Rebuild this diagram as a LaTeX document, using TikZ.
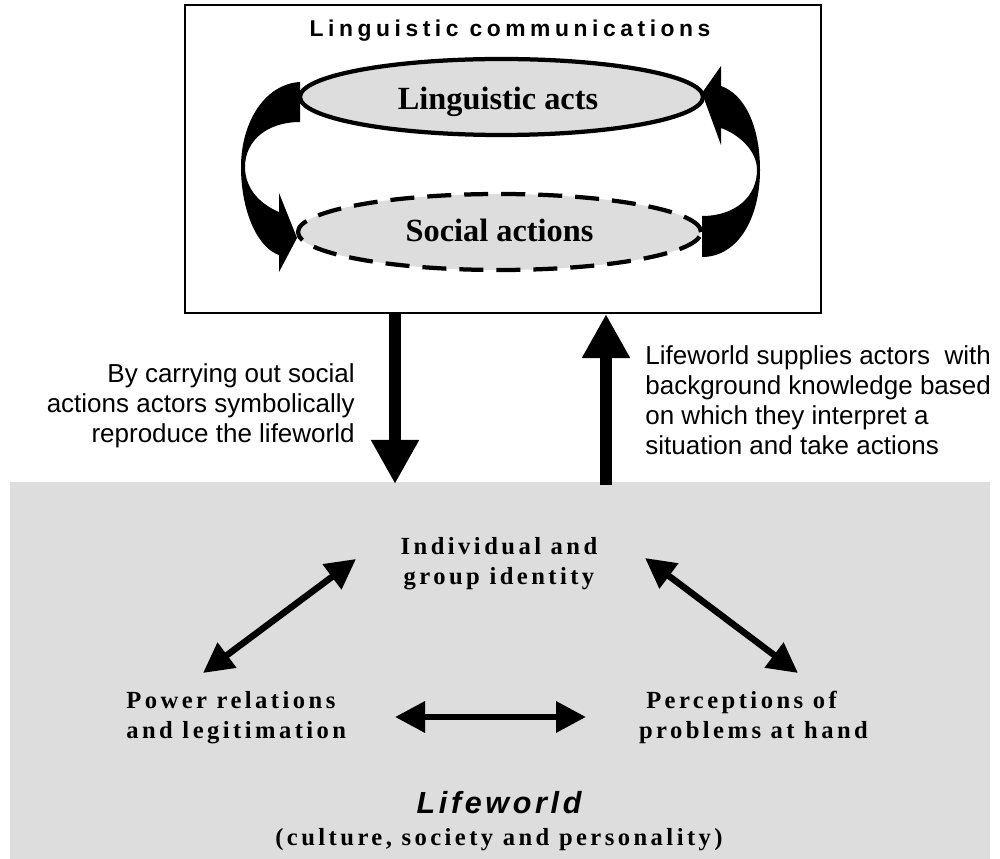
\documentclass[tikz,border=0pt]{standalone}
\usepackage{fontspec}
\usetikzlibrary{arrows.meta,shapes.geometric,calc}
\newfontfamily\sansf{Liberation Sans}
\newfontfamily\titlef[LetterSpace=20]{Liberation Sans}
\newfontfamily\lifef[LetterSpace=12]{Liberation Sans}
\newfontfamily\serf{Liberation Serif}
\newfontfamily\sersp[LetterSpace=14]{Liberation Serif}
\definecolor{bg}{RGB}{221,221,221}
\begin{document}
\begin{tikzpicture}[x=0.2mm,y=-0.2mm,
  ell/.style={ellipse, draw, line width=0.85mm, fill=bg, minimum width=80.6mm, minimum height=15.2mm, inner sep=0},
  bigtxt/.style={font=\serf\bfseries\fontsize{18.4}{22}\selectfont, inner sep=0},
  side/.style={font=\sansf\fontsize{14.8}{17.07}\selectfont, inner sep=0},
  lwtext/.style={font=\sersp\bfseries\fontsize{14}{17.07}\selectfont, inner sep=0, align=center},
  bigarrow/.style={line width=2.4mm, -{Triangle[length=8.8mm,width=9mm]}},
  dblarrow/.style={line width=1.3mm, {Triangle[length=6mm,width=6mm]}-{Triangle[length=6mm,width=6mm]}},
]
\useasboundingbox (0,0) rectangle (1000,859);
\fill[white] (0,0) rectangle (1000,859);

% top box
\node[draw, line width=0.4mm, minimum width=127.2mm, minimum height=61.6mm, inner sep=0] (lc) at (503,159) {};
\node[anchor=north, inner sep=0, font=\titlef\bfseries\fontsize{13}{15}\selectfont] (title) at (510,20) {Linguistic communications};

\node[ell] (la) at (501.5,97) {};
\node[bigtxt, anchor=base] (latx) at (498,110) {Linguistic acts};
\node[ell, dashed, dash pattern=on 4.8mm off 2.6mm] (sa) at (499.5,232) {};
\node[bigtxt, anchor=base] (satx) at (499.5,242) {Social actions};

% curved arrows
\fill (300,82) .. controls (265,84) and (241,122) .. (241,167)
  .. controls (241,212) and (258,248) .. (279,255) -- (279,272) -- (297,238) -- (279,193) -- (279,212)
  .. controls (262,205) and (245,190) .. (245,167)
  .. controls (245,140) and (268,122) .. (300,122) -- cycle;
\fill (702,257) .. controls (738,257) and (760,218) .. (760,170)
  .. controls (760,125) and (744,94) .. (721,86) -- (721,66) -- (702,93) -- (721,145) -- (721,128)
  .. controls (738,134) and (757,150) .. (757,170)
  .. controls (757,196) and (736,216) .. (702,216) -- cycle;

% lifeworld area
\node[fill=bg, minimum width=196mm, minimum height=75.4mm, inner sep=0, outer sep=0] (lw) at (500,670.5) {};

% vertical arrows
\draw[bigarrow] (395,0 |- lc.south) -- ($(395,0 |- lw.north)+(0,2)$);
\draw[bigarrow] ($(606,0 |- lw.north)+(0,3)$) -- (606,0 |- lc.south);

\node[side, anchor=north east, align=right] (lt) at (355,363.5) {By carrying out social\\actions actors symbolically\\reproduce the lifeworld};
\node[side, anchor=north west, align=left] (rt) at (645,345.5) {Lifeworld supplies actors\ \ with\\background knowledge based\\on which they interpret a\\situation and take actions};

% lifeworld contents
\node[lwtext, anchor=north] (ind) at (499,537) {Individual and\\group identity};
\node[lwtext, anchor=north west, align=left] (pow) at (126,691) {Power relations\\and legitimation};
\node[lwtext, anchor=north] (per) at (753.5,691) {Perceptions of\hspace*{4.8mm}\\problems at hand};
\node[anchor=north, inner sep=0, font=\lifef\bfseries\itshape\fontsize{17.36}{20}\selectfont] (lwt) at (499,791) {Lifeworld};
\node[lwtext, anchor=north] (cul) at (499,828) {(culture, society and personality)};

\coordinate (a1) at (356,559);
\coordinate (a2) at (203,673);
\coordinate (b1) at (645,558);
\coordinate (b2) at (798,673);
\coordinate (c1) at (395,717);
\coordinate (c2) at (586,717);
\draw[dblarrow] (a1) -- (a2);
\draw[dblarrow] (b1) -- (b2);
\draw[dblarrow] (c1) -- (c2);
\end{tikzpicture}
\end{document}
